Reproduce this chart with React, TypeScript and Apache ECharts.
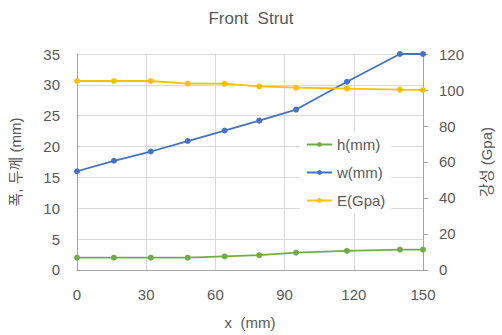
import React, { useEffect, useRef } from "react";
import * as echarts from "echarts";

const xs = [0, 16, 32, 48, 64, 79, 95, 117, 140, 150];
const hVals = [2, 2, 2, 2, 2.2, 2.4, 2.8, 3.1, 3.3, 3.3];
const wVals = [16, 17.7, 19.2, 20.9, 22.6, 24.2, 26.0, 30.5, 35, 35];
const eVals = [105, 105, 105, 103.5, 103.5, 102, 101.3, 100.8, 100.2, 100];
const seriesNames = ["h(mm)", "w(mm)", "E(Gpa)"];
const colors = ["#70ad47", "#4472c4", "#ffc000"];

const FONT = "'Liberation Sans', 'Noto Sans CJK KR', sans-serif";
const TXT = "#595959";

export default function App() {
  const ref = useRef<HTMLDivElement>(null);
  useEffect(() => {
    const chart = echarts.init(ref.current!, null, { renderer: "svg" });
    const mk = (vals: number[]) => xs.map((x, i) => [x, vals[i]]);
    const lineSeries = (name: string, vals: number[], color: string, yIdx: number) => ({
      name,
      type: "line",
      yAxisIndex: yIdx,
      data: mk(vals),
      symbol: "circle",
      symbolSize: 6,
      lineStyle: { color, width: 1.8 },
      itemStyle: { color },
      z: 3,
    });
    chart.setOption({
      animation: false,
      textStyle: { fontFamily: FONT },
      title: {
        text: "Front  Strut",
        left: "center",
        top: 5,
        textStyle: { fontSize: 17, fontWeight: "normal", color: TXT, fontFamily: FONT },
      },
      grid: { left: 75, right: 75, top: 54, bottom: 61 },
      legend: {
        orient: "vertical",
        left: 300,
        top: 131,
        itemGap: 13,
        itemWidth: 25,
        itemHeight: 6,
        backgroundColor: "#ffffff",
        padding: [6, 6, 6, 6],
        textStyle: { fontSize: 15, color: TXT, fontFamily: FONT },
        data: seriesNames,
        z: 10,
      },
      xAxis: {
        type: "value",
        min: 0,
        max: 150,
        interval: 30,
        name: "x  (mm)",
        nameLocation: "middle",
        nameGap: 45,
        nameTextStyle: { fontSize: 15, color: TXT },
        axisLine: { show: true, lineStyle: { color: "#a6a6a6" } },
        axisTick: { show: false },
        axisLabel: { fontSize: 15, color: TXT, margin: 17 },
        splitLine: { show: true, lineStyle: { color: "#d9d9d9" } },
      },
      yAxis: [
        {
          type: "value",
          min: 0,
          max: 35,
          interval: 5,
          name: "폭, 두께 (mm)",
          nameLocation: "middle",
          nameGap: 54,
          nameRotate: 90,
          nameTextStyle: { fontSize: 15, color: TXT },
          axisLine: { show: true, lineStyle: { color: "#a6a6a6" } },
          axisTick: { show: false },
          axisLabel: { fontSize: 15, color: TXT, margin: 17 },
          splitLine: { show: true, lineStyle: { color: "#d9d9d9" } },
        },
        {
          type: "value",
          min: 0,
          max: 120,
          interval: 20,
          name: "강성 (Gpa)",
          nameLocation: "middle",
          nameGap: 56,
          nameRotate: 90,
          nameTextStyle: { fontSize: 15, color: TXT },
          axisLine: { show: true, lineStyle: { color: "#a6a6a6" } },
          axisTick: { show: true, length: 5, lineStyle: { color: "#a6a6a6" } },
          axisLabel: { fontSize: 15, color: TXT, margin: 16 },
          splitLine: { show: false },
        },
      ],
      series: [
        lineSeries(seriesNames[0], hVals, colors[0], 0),
        lineSeries(seriesNames[1], wVals, colors[1], 0),
        lineSeries(seriesNames[2], eVals, colors[2], 1),
      ],
    });
    return () => chart.dispose();
  }, []);
  return <div ref={ref} style={{ width: 502, height: 335, position: "absolute", left: 0, top: 0 }} />;
}
